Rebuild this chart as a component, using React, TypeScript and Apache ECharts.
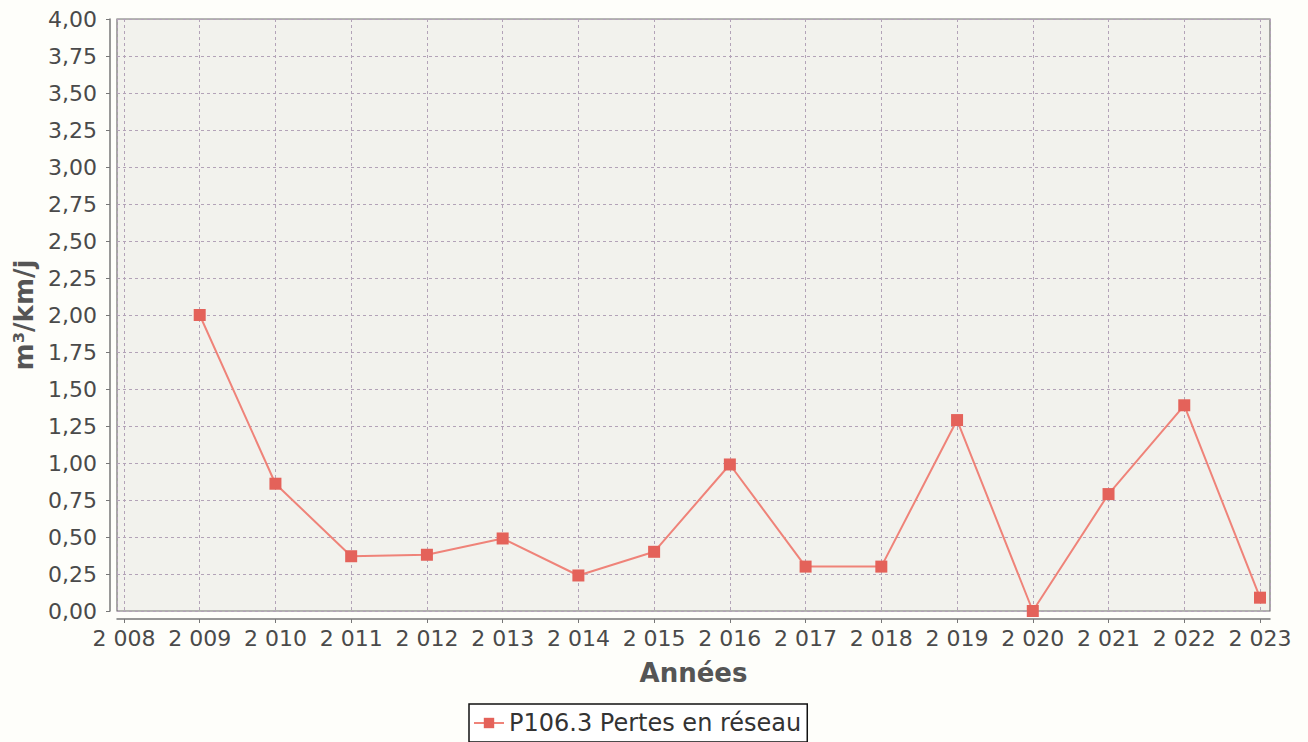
import React, { useEffect, useRef } from "react";
import * as echarts from "echarts";

const years = [2009, 2010, 2011, 2012, 2013, 2014, 2015, 2016, 2017, 2018, 2019, 2020, 2021, 2022, 2023];
const values = [2.0, 0.86, 0.37, 0.38, 0.49, 0.24, 0.4, 0.99, 0.3, 0.3, 1.29, 0.0, 0.79, 1.39, 0.09];
const seriesName = "P106.3 Pertes en réseau";
const xAxisName = "Années";
const yAxisName = "m³/km/j";
const xMin = 2007.908;
const xMax = 2023.132;
const yMin = 0;
const yMax = 4;
const yStep = 0.25;

const FONT = "DejaVu Sans";

export default function App() {
  const ref = useRef<HTMLDivElement>(null);
  useEffect(() => {
    if (!ref.current) return;
    const chart = echarts.init(ref.current, null, { renderer: "svg" });
    const gridLine = { show: true, lineStyle: { color: "#b3a3b8", width: 1, type: [3, 3] } };
    chart.setOption({
      animation: false,
      backgroundColor: "#fefefa",
      textStyle: { fontFamily: FONT },
      grid: {
        left: 117,
        right: 38,
        top: 19,
        bottom: 131,
        show: true,
        backgroundColor: "#f2f2ed",
        borderColor: "#6f6f6f",
        borderWidth: 1.2,
        containLabel: false,
      },
      legend: {
        left: 469,
        top: 704,
        data: [seriesName],
        backgroundColor: "#ffffff",
        borderColor: "#111111",
        borderWidth: 1.5,
        borderRadius: 0,
        padding: [7, 6, 7, 4],
        itemWidth: 30,
        itemHeight: 13,
        textStyle: { fontFamily: FONT, fontSize: 24, color: "#333333" },
      },
      xAxis: {
        type: "value",
        min: xMin,
        max: xMax,
        splitNumber: 15,
        minInterval: 1,
        maxInterval: 1,
        offset: 8,
        name: xAxisName,
        nameLocation: "middle",
        nameGap: 41,
        nameTextStyle: { fontFamily: FONT, fontSize: 26, fontWeight: "bold", color: "#555555" },
        axisLine: { show: true, onZero: false, lineStyle: { color: "#777777", width: 1.5 } },
        axisTick: { show: true, length: 4, lineStyle: { color: "#777777" } },
        axisLabel: {
          margin: 8,
          fontFamily: FONT,
          fontSize: 22,
          color: "#4a4a4a",
          showMinLabel: false,
          showMaxLabel: false,
          formatter: (v: number) =>
            Math.abs(v - Math.round(v)) < 1e-6
              ? String(Math.round(v)).replace(/\B(?=(\d{3})+$)/g, " ")
              : "",
        },
        splitLine: gridLine,
      },
      yAxis: {
        type: "value",
        min: yMin,
        max: yMax,
        interval: yStep,
        offset: 7,
        name: yAxisName,
        nameLocation: "middle",
        nameGap: 71,
        nameTextStyle: { fontFamily: FONT, fontSize: 26, fontWeight: "bold", color: "#555555" },
        axisLine: { show: true, onZero: false, lineStyle: { color: "#777777", width: 1.5 } },
        axisTick: { show: true, length: 4, lineStyle: { color: "#777777" } },
        axisLabel: {
          margin: 13,
          fontFamily: FONT,
          fontSize: 22,
          color: "#4a4a4a",
          formatter: (v: number) => v.toFixed(2).replace(".", ","),
        },
        splitLine: gridLine,
      },
      series: [
        {
          name: seriesName,
          type: "line",
          data: years.map((y, i) => [y, values[i]]),
          symbol: "rect",
          symbolSize: 12,
          lineStyle: { color: "#ef8379", width: 2 },
          itemStyle: { color: "#e4625a" },
          clip: true,
        },
      ],
    });
    return () => chart.dispose();
  }, []);
  return (
    <div
      ref={ref}
      style={{ position: "absolute", left: 0, top: 0, width: 1308, height: 742 }}
    />
  );
}
